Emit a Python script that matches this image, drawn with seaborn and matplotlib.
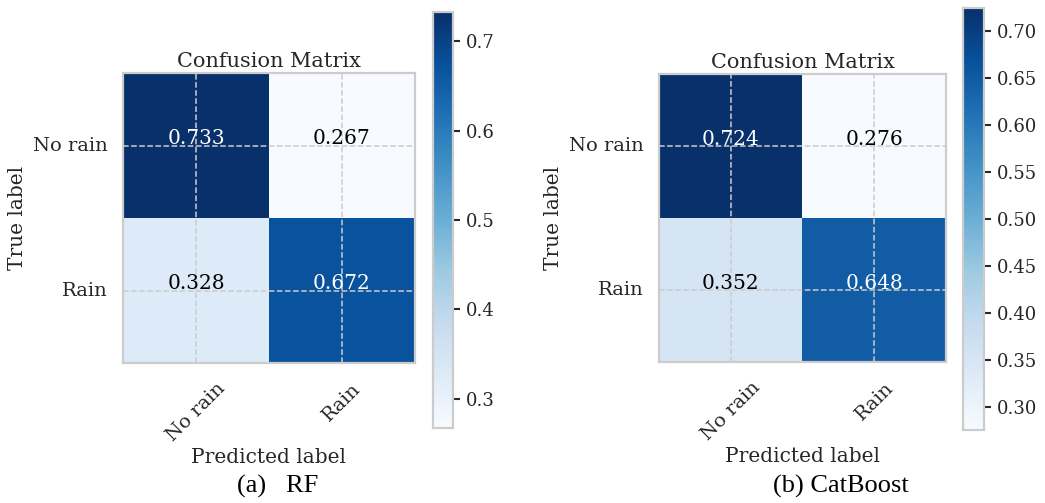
"""
Two normalised confusion matrices (RF and CatBoost) drawn side by side
with seaborn heatmaps.
"""

import matplotlib.pyplot as plt
import matplotlib.transforms as mtransforms
import numpy as np
import seaborn as sns

# Data
classes = ['No rain', 'Rain']
rf_matrix = [[0.733, 0.267],
             [0.328, 0.672]]
cat_matrix = [[0.724, 0.276],
              [0.352, 0.648]]
rf_ticks = [0.3, 0.4, 0.5, 0.6, 0.7]
cat_ticks = [0.30, 0.35, 0.40, 0.45, 0.50, 0.55, 0.60, 0.65, 0.70]
captions = ['(a)   RF', '(b) CatBoost']

sns.set_style('whitegrid', {'grid.linestyle': '--'})
plt.rcParams['font.family'] = ['DejaVu Serif']
plt.rcParams['text.color'] = '.15'


def draw_matrix(fig, ax_rect, cax_rect, matrix, ticks, tick_fmt):
    """Draw one confusion matrix with its colourbar."""
    ax = fig.add_axes(ax_rect)
    cax = fig.add_axes(cax_rect)
    sns.heatmap(np.array(matrix), annot=True, fmt='.3f', cmap='Blues',
                ax=ax, cbar_ax=cax, xticklabels=classes, yticklabels=classes,
                annot_kws={'fontsize': 14.5},
                cbar_kws={'ticks': ticks, 'format': tick_fmt})

    # annotations sit a little above the cell centre, black on light cells
    shift = mtransforms.ScaledTranslation(0, 5 / 72, fig.dpi_scale_trans)
    for txt in ax.texts:
        txt.set_transform(txt.get_transform() + shift)
        if txt.get_color() != 'w':
            txt.set_color('black')

    # grid through the cell centres, on top of the cells
    ax.set_axisbelow(False)
    ax.grid(True, linestyle='--', color='.8', linewidth=1.1)

    # bring back the light frame that heatmap removes
    for spine in ax.spines.values():
        spine.set_visible(True)
        spine.set_color('.8')
        spine.set_linewidth(1.6)

    ax.tick_params(axis='y', length=0, pad=11, labelsize=14, rotation=0)
    ax.tick_params(axis='x', length=0, pad=12, labelsize=14)
    plt.setp(ax.get_xticklabels(), rotation=45, ha='center')

    ax.set_title('Confusion Matrix', fontsize=15, pad=4)
    ax.set_xlabel('Predicted label', fontsize=14.5, labelpad=2)
    ax.set_ylabel('True label', fontsize=14.5, labelpad=4)

    cbar = ax.collections[0].colorbar
    cbar.outline.set_linewidth(1.6)
    cbar.outline.set_edgecolor('.8')
    cax.tick_params(length=5, width=1.5, pad=4, labelsize=13, colors='.15')
    return ax


fig = plt.figure(figsize=(10.45, 5.03), dpi=100)

draw_matrix(fig, [0.1177, 0.2783, 0.2794, 0.5765],
            [0.4144, 0.1491, 0.0191, 0.827],
            rf_matrix, rf_ticks, '%.1f')
draw_matrix(fig, [0.6306, 0.2803, 0.2746, 0.5726],
            [0.9215, 0.1451, 0.0201, 0.839],
            cat_matrix, cat_ticks, '%.2f')

# sub-figure captions
fig.text(0.266, 0.032, captions[0], family='Liberation Serif', fontsize=19,
         ha='center', va='center', color='black')
fig.text(0.805, 0.032, captions[1], family='Liberation Serif', fontsize=19,
         ha='center', va='center', color='black')

fig.savefig('out.png', dpi=100)
